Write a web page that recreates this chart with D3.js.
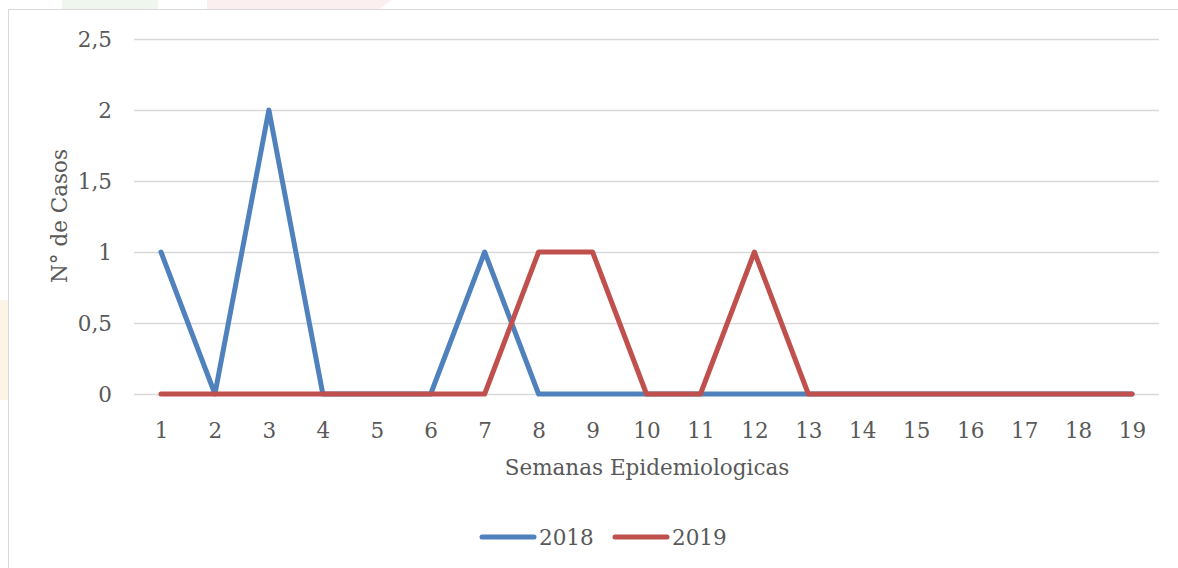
<!DOCTYPE html>
<html>
<head>
<meta charset="utf-8">
<script src="https://cdn.jsdelivr.net/npm/d3@7"></script>
<style>
  body { margin: 0; background: #fff; }
  svg { display: block; }
  text { font-family: "DejaVu Serif", "Liberation Serif", serif; fill: #595959; }
</style>
</head>
<body>
<div id="app"></div>
<script>
// weeks and cases per year
const weeks = d3.range(1, 20);
const cases2018 = [1, 0, 2, 0, 0, 0, 1, 0, 0, 0, 0, 0, 0, 0, 0, 0, 0, 0, 0];
const cases2019 = [0, 0, 0, 0, 0, 0, 0, 1, 1, 0, 0, 1, 0, 0, 0, 0, 0, 0, 0];
const yTicks = [0, 0.5, 1, 1.5, 2, 2.5];
const seriesNames = ["2018", "2019"];
const colors = ["#4F81BD", "#C0504D"];

const width = 1178;
const height = 568;
const fontSize = 21.5;
const lineWidth = 5;

const svg = d3.select("#app").append("svg").attr("width", width).attr("height", height);

// faint watermark behind the chart frame
const wm = svg.append("g");
wm.append("rect").attr("x", 62).attr("y", 0).attr("width", 96).attr("height", 12).attr("fill", "#eef6ee");
wm.append("path").attr("d", "M207,0 L392,0 L375,12 L207,12 Z").attr("fill", "#fcefef");
wm.append("rect").attr("x", 0).attr("y", 300).attr("width", 9).attr("height", 100).attr("fill", "#fdf3e6");

// chart frame
svg.append("rect")
  .attr("x", 8.5).attr("y", 9.5)
  .attr("width", 1200).attr("height", 600)
  .attr("fill", "#fff")
  .attr("stroke", "#d9d9d9");

const x = d3.scalePoint().domain(weeks).range([134, 1159]).padding(0.5);
const y = d3.scaleLinear().domain([0, 2.5]).range([394, 39]);

// GRIDLINES
svg.append("g")
  .selectAll("line")
  .data(yTicks)
  .join("line")
  .attr("x1", 134).attr("x2", 1159)
  .attr("y1", d => Math.round(y(d)) + 0.5)
  .attr("y2", d => Math.round(y(d)) + 0.5)
  .attr("stroke", "#d9d9d9")
  .attr("stroke-width", 1.3);

// Y AXIS
const fmt = d => String(d).replace(".", ",");
const yAxis = svg.append("g")
  .attr("transform", "translate(112,0)")
  .call(d3.axisLeft(y).tickValues(yTicks).tickFormat(fmt).tickSize(0));
yAxis.select(".domain").remove();
yAxis.selectAll("text").attr("font-size", fontSize).attr("font-family", null).attr("dy", "0.35em").attr("x", 0);

// X AXIS
const xAxis = svg.append("g")
  .attr("transform", "translate(0,438)")
  .call(d3.axisBottom(x).tickSize(0));
xAxis.select(".domain").remove();
xAxis.selectAll("text").attr("font-size", fontSize).attr("font-family", null).attr("dy", 0).attr("y", 0);

// AXIS TITLES
svg.append("text")
  .attr("x", 647).attr("y", 475)
  .attr("text-anchor", "middle")
  .attr("font-size", fontSize)
  .text("Semanas Epidemiologicas");

svg.append("text")
  .attr("transform", "translate(67,216) rotate(-90)")
  .attr("text-anchor", "middle")
  .attr("font-size", fontSize)
  .text("N° de Casos");

// LINES
const line = d3.line().x((d, i) => x(weeks[i])).y(d => y(d));
[cases2018, cases2019].forEach((values, i) => {
  svg.append("path")
    .datum(values)
    .attr("d", line)
    .attr("fill", "none")
    .attr("stroke", colors[i])
    .attr("stroke-width", lineWidth)
    .attr("stroke-linejoin", "round")
    .attr("stroke-linecap", "round");
});

// LEGEND
const legendX = [482, 615];
seriesNames.forEach((name, i) => {
  const g = svg.append("g").attr("transform", `translate(${legendX[i]},537)`);
  g.append("line")
    .attr("x1", 0).attr("x2", 52)
    .attr("stroke", colors[i])
    .attr("stroke-width", lineWidth)
    .attr("stroke-linecap", "round");
  g.append("text")
    .attr("x", 57).attr("dy", "0.35em")
    .attr("font-size", fontSize)
    .text(name);
});
</script>
</body>
</html>
